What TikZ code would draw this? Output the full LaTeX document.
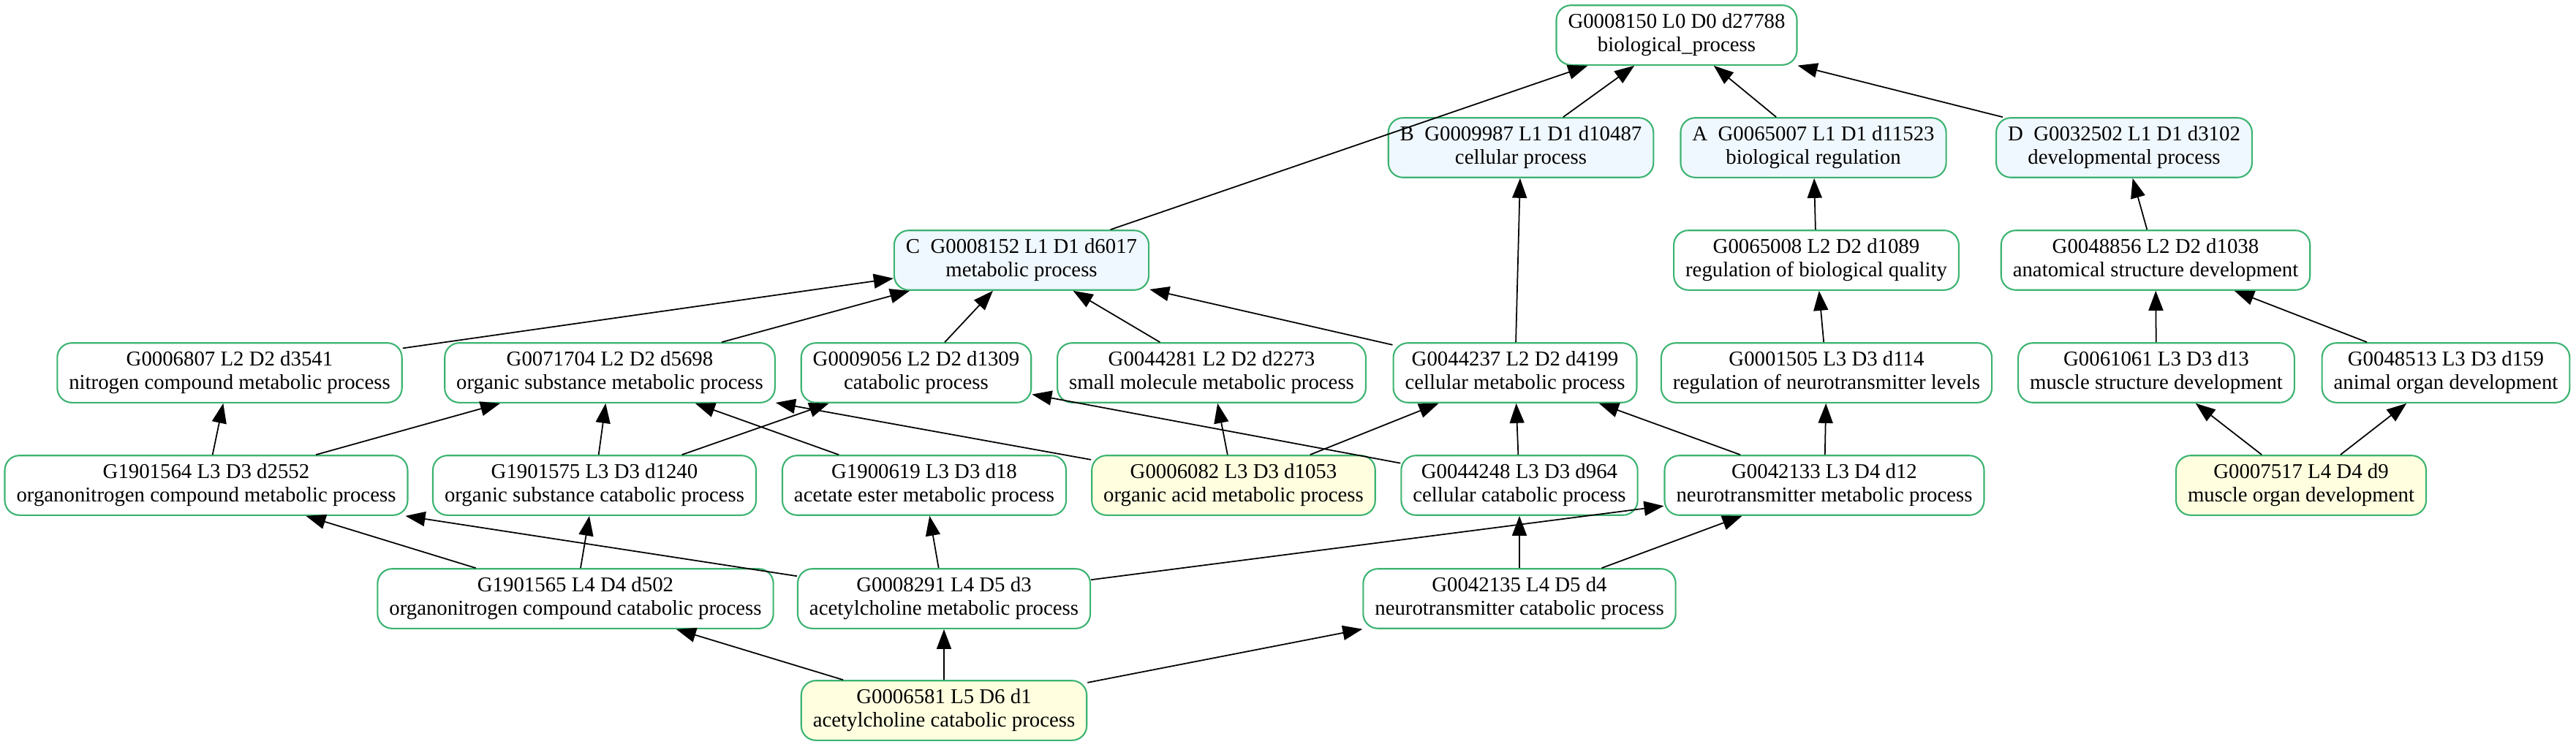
\documentclass[tikz,border=0pt]{standalone}
\usepackage{fontspec}
\setmainfont{Liberation Serif}
\usetikzlibrary{
  arrows.meta, % for the filled Triangle tip
  positioning, % for relative placement of the terms
}
\definecolor{termline}{HTML}{3CB371}
\definecolor{alphafill}{HTML}{F0F8FF}
\definecolor{userfill}{HTML}{FFFFE0}
\tikzset{
  term/.style={ % style for each GO term
    rectangle,rounded corners=0.2cm,draw=termline,line width=0.6pt,
    fill=white,
    align=center,
    inner xsep=0.16cm, % padding left and right of the text
    minimum height=0.8cm, % every box is as tall as two lines
    font=\fontsize{8.2}{9.1}\selectfont,
  },
  alpha/.style={ % terms marked with a letter
    term,
    fill=alphafill,
  },
  user/.style={ % the terms that were asked for
    term,
    fill=userfill,
  },
  conn/.style={ % style for the is_a links
    -{Triangle[length=0.27cm,width=0.2cm]},
    line width=0.5pt,
  },
}
\begin{document}
\begin{tikzpicture}
	\useasboundingbox (0,0) rectangle (35.23,-10.21);

	% level 0
	\node[term] (bp) at (22.93,-0.48) {G0008150 L0 D0 d27788\\biological\_process};

	% level 1
	\node[alpha] (cp) at (20.80,-2.02) {B~~G0009987 L1 D1 d10487\\cellular process};
	\node[alpha] (br) [right of=cp, node distance=4.00cm] {A~~G0065007 L1 D1 d11523\\biological regulation};
	\node[alpha] (dp) [right of=br, node distance=4.25cm] {D~~G0032502 L1 D1 d3102\\developmental process};

	% level 1/2
	\node[alpha] (mp) at (13.97,-3.56) {C~~G0008152 L1 D1 d6017\\metabolic process};
	\node[term] (rbq) at (24.84,-3.56) {G0065008 L2 D2 d1089\\regulation of biological quality};
	\node[term] (asd) [right of=rbq, node distance=4.64cm] {G0048856 L2 D2 d1038\\anatomical structure development};

	% level 2
	\node[term] (ncm) at (3.14,-5.10) {G0006807 L2 D2 d3541\\nitrogen compound metabolic process};
	\node[term] (osm) [right of=ncm, node distance=5.20cm] {G0071704 L2 D2 d5698\\organic substance metabolic process};
	\node[term] (cat) [right of=osm, node distance=4.19cm] {G0009056 L2 D2 d1309\\catabolic process};
	\node[term] (smm) [right of=cat, node distance=4.04cm] {G0044281 L2 D2 d2273\\small molecule metabolic process};
	\node[term] (cmp) [right of=smm, node distance=4.15cm] {G0044237 L2 D2 d4199\\cellular metabolic process};
	\node[term] (rnl) [right of=cmp, node distance=4.26cm] {G0001505 L3 D3 d114\\regulation of neurotransmitter levels};
	\node[term] (msd) [right of=rnl, node distance=4.51cm] {G0061061 L3 D3 d13\\muscle structure development};
	\node[term] (aod) [right of=msd, node distance=3.96cm] {G0048513 L3 D3 d159\\animal organ development};

	% level 3
	\node[term] (onm) at (2.82,-6.64) {G1901564 L3 D3 d2552\\organonitrogen compound metabolic process};
	\node[term] (osc) [right of=onm, node distance=5.31cm] {G1901575 L3 D3 d1240\\organic substance catabolic process};
	\node[term] (aem) [right of=osc, node distance=4.51cm] {G1900619 L3 D3 d18\\acetate ester metabolic process};
	\node[user] (oam) [right of=aem, node distance=4.23cm] {G0006082 L3 D3 d1053\\organic acid metabolic process};
	\node[term] (ccp) [right of=oam, node distance=3.91cm] {G0044248 L3 D3 d964\\cellular catabolic process};
	\node[term] (ntm) [right of=ccp, node distance=4.17cm] {G0042133 L3 D4 d12\\neurotransmitter metabolic process};
	\node[user] (mod) [right of=ntm, node distance=6.52cm] {G0007517 L4 D4 d9\\muscle organ development};

	% level 4
	\node[term] (onc) at (7.87,-8.19) {G1901565 L4 D4 d502\\organonitrogen compound catabolic process};
	\node[term] (acm) [right of=onc, node distance=5.04cm] {G0008291 L4 D5 d3\\acetylcholine metabolic process};
	\node[term] (ntc) [right of=acm, node distance=7.87cm] {G0042135 L4 D5 d4\\neurotransmitter catabolic process};

	% level 5
	\node[user] (acc) [below of=acm, node distance=1.53cm] {G0006581 L5 D6 d1\\acetylcholine catabolic process};

	\path[conn]
		(cp)  edge (bp)
		(br)  edge (bp)
		(dp)  edge (bp)
		(mp)  edge (bp)
		(cmp) edge (cp)
		(rbq) edge (br)
		(asd) edge (dp)
		(ncm) edge (mp)
		(osm) edge (mp)
		(cat) edge (mp)
		(smm) edge (mp)
		(cmp) edge (mp)
		(rnl) edge (rbq)
		(msd) edge (asd)
		(aod) edge (asd)
		(onm) edge (ncm)
		(onm) edge (osm)
		(osc) edge (osm)
		(osc) edge (cat)
		(aem) edge (osm)
		(oam) edge (osm)
		(oam) edge (smm)
		(oam) edge (cmp)
		(ccp) edge (cat)
		(ccp) edge (cmp)
		(ntm) edge (cmp)
		(ntm) edge (rnl)
		(mod) edge (msd)
		(mod) edge (aod)
		(onc) edge (onm)
		(onc) edge (osc)
		(acm) edge (onm)
		(acm) edge (aem)
		(acm) edge (ntm)
		(ntc) edge (ccp)
		(ntc) edge (ntm)
		(acc) edge (onc)
		(acc) edge (acm)
		(acc) edge (ntc);
\end{tikzpicture}
\end{document}
